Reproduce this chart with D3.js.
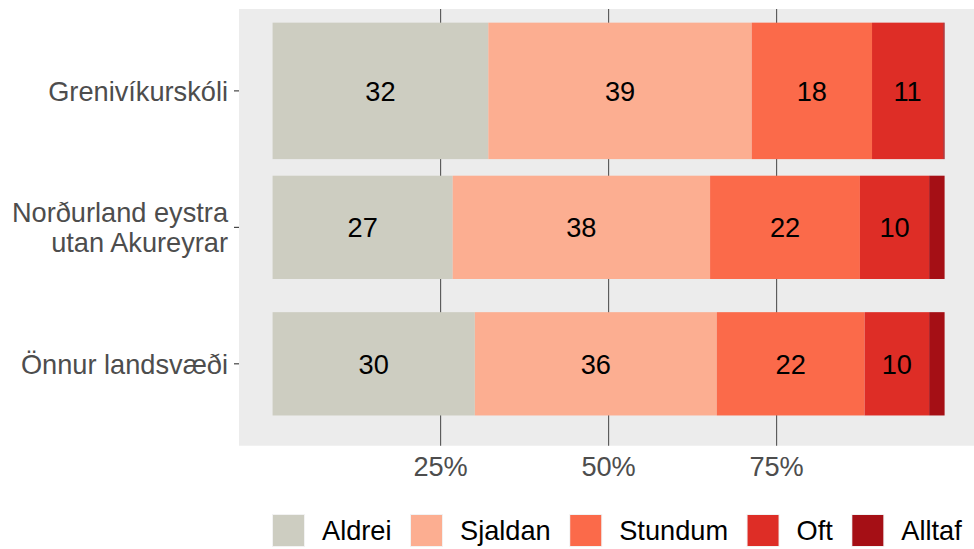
<!DOCTYPE html>
<html>
<head>
<meta charset="utf-8">
<script src="https://cdn.jsdelivr.net/npm/d3@7"></script>
<style>
body { margin:0; padding:0; background:white; overflow:hidden; }
svg { display:block; font-family: "Liberation Sans", Arial, sans-serif; }
</style>
</head>
<body>
<div id="chart"></div>
<script>
// ===== data =====
const regions = ["Grenivíkurskóli", "Norðurland eystra\nutan Akureyrar", "Önnur landsvæði"];
const answers = ["Aldrei", "Sjaldan", "Stundum", "Oft", "Alltaf"];
const colours = ["#CDCDC1", "#FCAE91", "#FB6A4A", "#DE2D26", "#A50F15"];
const aldrei  = [32.1, 26.8, 30.1];
const sjaldan = [39.2, 38.3, 36.0];
const stundum = [17.9, 22.3, 22.0];
const oft     = [10.6, 10.3, 9.6];
const alltaf  = [0.2, 2.3, 2.3];
const barWidths = [1.0, 0.757, 0.757];   // relative bar width per region
const xTicks = [0.25, 0.5, 0.75];

const series = [aldrei, sjaldan, stundum, oft, alltaf];

// ===== layout =====
const W = 974, H = 549;
const panel = {left: 239, top: 9, bottom: 445.7};
const fontSize = 27.2;

const svg = d3.select("#chart").append("svg").attr("width", W).attr("height", H);

// x: proportion, with ggplot's 5% expansion
const x = d3.scaleLinear().domain([-0.05, 1.05]).range([panel.left, 978.2]);
// y: discrete positions (1 = bottom) with 0.6 expansion
const yPos = d3.scaleLinear().domain([0.4, regions.length + 0.6]).range([panel.bottom, panel.top]);
const unit = yPos(0) - yPos(1);
const catY = i => yPos(regions.length - i);

// panel background
svg.append("rect")
  .attr("x", panel.left).attr("y", panel.top)
  .attr("width", x(1.05) - panel.left).attr("height", panel.bottom - panel.top)
  .attr("fill", "#ECECEC");

// gridlines
svg.selectAll(".grid").data(xTicks).enter().append("line")
  .attr("x1", d => x(d)).attr("x2", d => x(d))
  .attr("y1", panel.top).attr("y2", panel.bottom)
  .attr("stroke", "#555").attr("stroke-width", 1.1);

// stacked data
const rows = regions.map((r, i) => {
  let acc = 0;
  return answers.map((a, k) => {
    const v = series[k][i];
    const seg = {region: i, k: k, v: v, x0: acc / 100, x1: (acc + v) / 100};
    acc += v;
    return seg;
  });
}).flat();

svg.selectAll(".bar").data(rows).enter().append("rect")
  .attr("x", d => x(d.x0))
  .attr("width", d => x(d.x1) - x(d.x0))
  .attr("y", d => catY(d.region) - barWidths[d.region] * unit / 2)
  .attr("height", d => barWidths[d.region] * unit)
  .attr("fill", d => colours[d.k]);

svg.selectAll(".lab").data(rows.filter(d => d.v >= 5)).enter().append("text")
  .attr("x", d => x((d.x0 + d.x1) / 2))
  .attr("y", d => catY(d.region))
  .attr("dy", "0.36em")
  .attr("text-anchor", "middle")
  .attr("font-size", fontSize)
  .attr("fill", "#000")
  .text(d => Math.round(d.v));

// y axis ticks + labels
regions.forEach((r, i) => {
  const cy = catY(i);
  svg.append("line")
    .attr("x1", panel.left - 5).attr("x2", panel.left)
    .attr("y1", cy).attr("y2", cy)
    .attr("stroke", "#333").attr("stroke-width", 1.1);
  const lines = r.split("\n");
  const lh = 29.7;
  const t = svg.append("text")
    .attr("text-anchor", "end")
    .attr("font-size", fontSize)
    .attr("fill", "#4D4D4D");
  lines.forEach((l, j) => {
    t.append("tspan")
      .attr("x", panel.left - 11)
      .attr("y", cy + 9.9 + (j - (lines.length - 1) / 2) * lh)
      .text(l);
  });
});

// x tick labels
svg.selectAll(".xt").data(xTicks).enter().append("text")
  .attr("x", d => x(d))
  .attr("y", panel.bottom + 30.5)
  .attr("text-anchor", "middle")
  .attr("font-size", fontSize)
  .attr("fill", "#4D4D4D")
  .text(d => d3.format(".0%")(d));

// legend
const legend = svg.append("g");
let lx = 272;
const keyY = 514, keySize = 33;
answers.forEach((a, k) => {
  legend.append("rect")
    .attr("x", lx).attr("y", keyY).attr("width", keySize).attr("height", keySize)
    .attr("fill", "#F2F2F2");
  legend.append("rect")
    .attr("x", lx + 1).attr("y", keyY + 1).attr("width", keySize - 2).attr("height", keySize - 2)
    .attr("fill", colours[k]);
  const t = legend.append("text")
    .attr("x", lx + keySize + 17)
    .attr("y", keyY + keySize / 2)
    .attr("dy", "0.36em")
    .attr("font-size", fontSize)
    .attr("fill", "#000")
    .text(a);
  lx += keySize + 17 + t.node().getComputedTextLength() + 18.5;
});
</script>
</body>
</html>
